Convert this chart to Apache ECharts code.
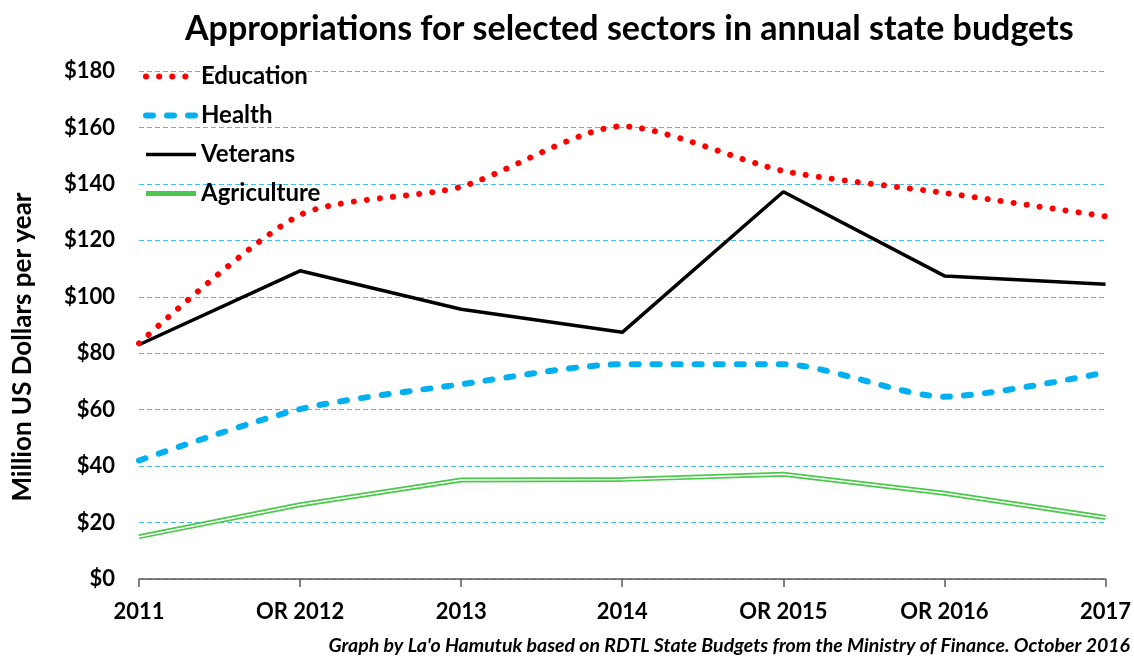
<!DOCTYPE html>
<html>
<head>
<meta charset="utf-8">
<script src="https://cdn.jsdelivr.net/npm/echarts@6/dist/echarts.min.js"></script>
<style>
  html, body { margin: 0; padding: 0; background: #fff; }
  #main { width: 1134px; height: 661px; }
</style>
</head>
<body>
<div id="main"></div>
<script>
var chartDom = document.getElementById('main');
var myChart = echarts.init(chartDom);
var option;

const years = ['2011', 'OR 2012', '2013', '2014', 'OR 2015', 'OR 2016', '2017'];
const education = [83.5, 129, 139, 160.4, 144.6, 136.8, 128.5];
const health = [42, 60.2, 69, 76.1, 76.1, 64.6, 73.2];
const veterans = [83, 109.2, 95.6, 87.4, 137.2, 107.4, 104.4];
const agriculture = [15, 26.3, 35.1, 35.3, 37.1, 30.4, 21.8];

const font = 'Lato, "Open Sans", sans-serif';

option = {
  backgroundColor: '#fff',
  title: {
    text: 'Appropriations for selected sectors in annual state budgets',
    left: 180,
    top: 7,
    textStyle: { fontFamily: font, fontWeight: 'bold', fontSize: 34, color: '#000' }
  },
  legend: {
    orient: 'vertical',
    left: 138,
    top: 58,
    itemWidth: 50,
    itemHeight: 1,   // keeps the legend symbol dot invisible, only the line shows
    itemGap: 12,
    data: ['Education', 'Health', 'Veterans', 'Agriculture'],
    lineStyle: { width: 'inherit' },
    textStyle: { fontFamily: font, fontWeight: 'bold', fontSize: 24, color: '#000', lineHeight: 27 }
  },
  grid: { left: 139, right: 28, top: 71, bottom: 82 },
  xAxis: {
    type: 'category',
    data: years,
    boundaryGap: false,
    axisLine: { lineStyle: { color: '#595959', width: 1.5 } },
    axisTick: { show: true, length: 8, lineStyle: { color: '#595959', width: 1.5 } },
    axisLabel: { margin: 22, fontFamily: font, fontWeight: 'bold', fontSize: 22, color: '#000' },
    splitLine: { show: false }
  },
  yAxis: {
    type: 'value',
    min: 0,
    max: 180,
    interval: 20,
    name: 'Million US Dollars per year',
    nameLocation: 'middle',
    nameRotate: 90,
    nameGap: 103,
    nameTextStyle: { fontFamily: font, fontWeight: 'bold', fontSize: 26, color: '#000', padding: [0, 44, 0, 0] },
    axisLine: { show: false },
    axisTick: { show: false },
    axisLabel: { margin: 24, fontFamily: font, fontWeight: 'bold', fontSize: 22, color: '#000', formatter: '${value}' },
    splitLine: { lineStyle: { color: '#3FC0F0', width: 1, type: [5, 3] } }
  },
  series: [
    {
      name: 'Education', type: 'line', data: education, symbol: 'none', smooth: 0.25, z: 5,
      color: '#FF0000',
      lineStyle: { color: '#FF0000', width: 6, type: [0.1, 13], cap: 'round' }
    },
    {
      name: 'Health', type: 'line', data: health, symbol: 'none', smooth: 0.25, z: 4,
      color: '#00B0F0',
      lineStyle: { color: '#00B0F0', width: 6, type: [7, 14], cap: 'round' }
    },
    {
      name: 'Veterans', type: 'line', data: veterans, symbol: 'none', z: 3,
      color: '#000',
      lineStyle: { color: '#000', width: 3.5 }
    },
    {
      name: 'Agriculture', type: 'line', data: agriculture, symbol: 'none', z: 2,
      color: '#4CC94C',
      lineStyle: { color: '#4CC94C', width: 5 }
    },
    {
      name: 'Agriculture core', type: 'line', data: agriculture, symbol: 'none', z: 2,
      silent: true,
      lineStyle: { color: '#fff', width: 1.5 }
    }
  ],
  graphic: [
    {
      type: 'text',
      right: 4,
      top: 636,
      style: {
        text: "Graph by La'o Hamutuk based on RDTL State Budgets from the Ministry of Finance. October 2016",
        fontFamily: font, fontStyle: 'italic', fontWeight: 'bold', fontSize: 19.5, fill: '#000'
      }
    }
  ]
};

option && myChart.setOption(option);
</script>
</body>
</html>
